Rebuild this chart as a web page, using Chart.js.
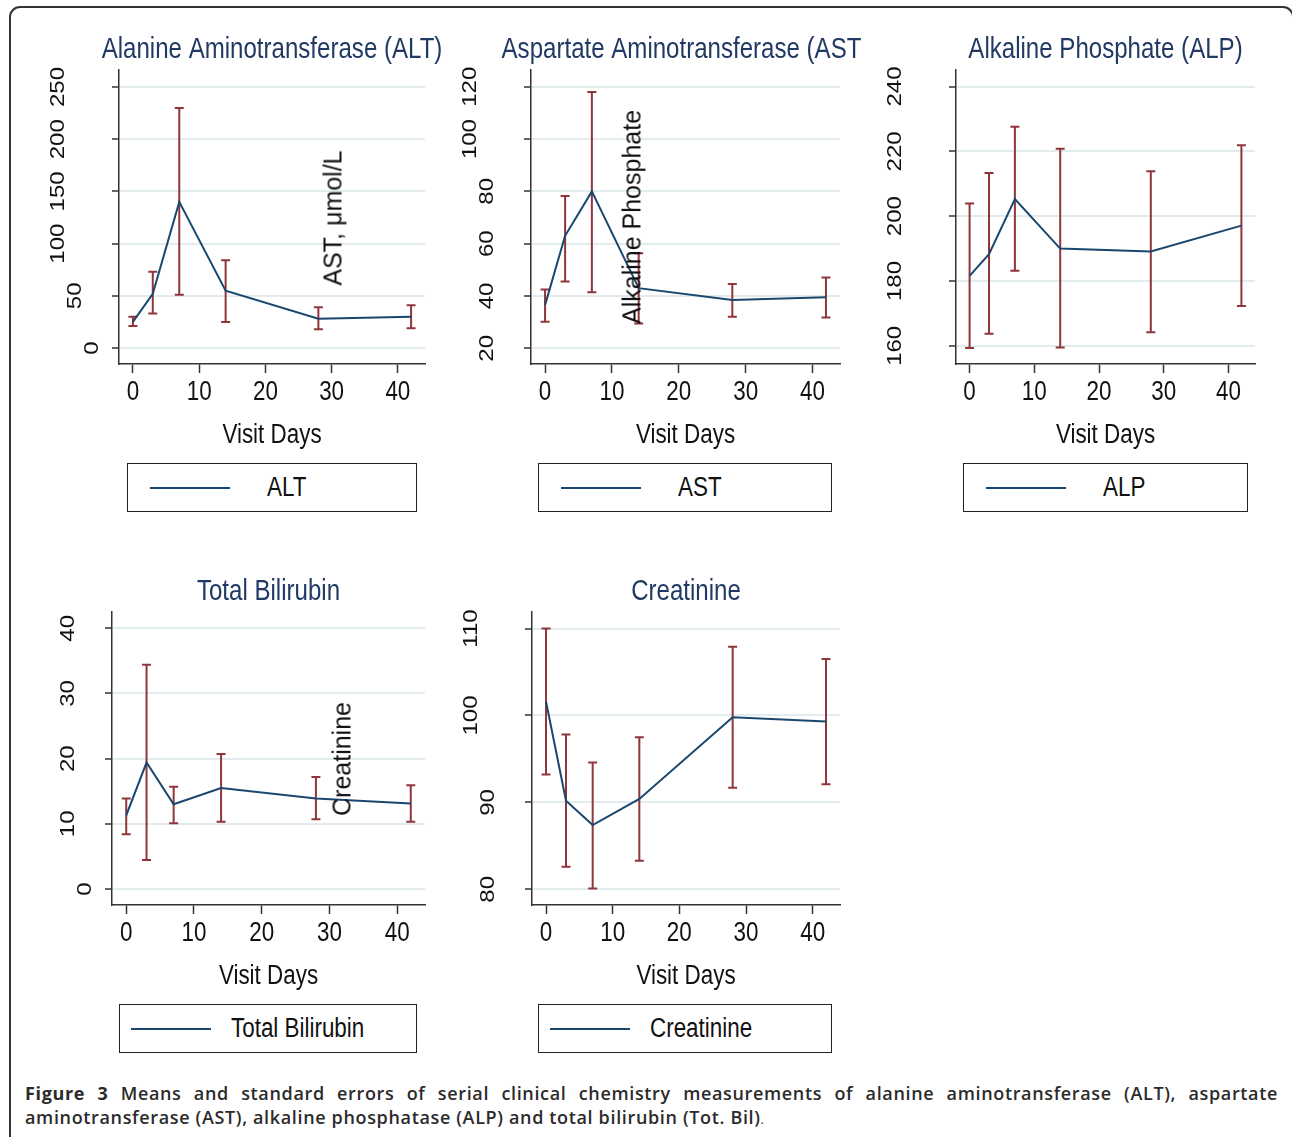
<!DOCTYPE html>
<html>
<head>
<meta charset="utf-8">
<script src="https://cdn.jsdelivr.net/npm/chart.js@4.4.0/dist/chart.umd.min.js"></script>
<style>
  html, body { margin: 0; padding: 0; background: #fff; }
  body { width: 1292px; height: 1137px; position: relative; overflow: hidden; font-family: 'Liberation Sans', Arial, sans-serif; }
  .frame { position: absolute; left: 9px; top: 6px; width: 1285px; height: 1200px; border: 2px solid #333; border-radius: 11px; box-sizing: border-box; }
  canvas { position: absolute; }
  .legend { position: absolute; border: 1px solid #222; box-sizing: border-box; display: flex; align-items: center;
            font-family: 'Liberation Sans', Arial, sans-serif; font-size: 27px; color: #111; background: #fff; }
  .legend .key { width: 80px; height: 0; border-top: 2px solid #1a476f; flex: none; }
  .legend .lbl { display: inline-block; transform: scaleX(0.83); transform-origin: left center; white-space: nowrap; }
  .ytitle { position: absolute; transform: translate(-50%, -50%) rotate(-90deg); white-space: nowrap; font-size: 25px; color: #111; }
  .caption { position: absolute; left: 25px; top: 1081px; width: 1253px; font-family: 'Open Sans', 'Noto Sans', sans-serif;
             font-weight: 600; font-size: 18px; line-height: 24px; color: #2b2b2b; letter-spacing: 0.65px; }
  .caption .l1 { text-align: justify; text-align-last: justify; }
  .caption b { font-weight: 700; }
  .caption .dot { font-weight: 400; font-size: 12px; }
</style>
</head>
<body>
<div class="frame"></div>

<canvas id="c-alt"></canvas>
<canvas id="c-ast"></canvas>
<canvas id="c-alp"></canvas>
<canvas id="c-bil"></canvas>
<canvas id="c-cre"></canvas>

<div class="ytitle" style="left:333px; top:218px;">AST, μmol/L</div>
<div class="ytitle" style="left:632px; top:217px;">Alkaline Phosphate</div>
<div class="ytitle" style="left:342px; top:759px;">Creatinine</div>

<div class="caption">
  <div class="l1"><b>Figure 3</b> Means and standard errors of serial clinical chemistry measurements of alanine aminotransferase (ALT), aspartate</div>
  <div>aminotransferase (AST), alkaline phosphatase (ALP) and total bilirubin (Tot. Bil)<span class="dot">.</span></div>
</div>

<script>
  // Dias de visita (eixo x comum)
  const visitDays = [0, 3, 7, 14, 28, 42];
  const xTicks = [0, 10, 20, 30, 40];
  const xRange = [-2.1, 44.1];

  // ALT
  const altMean = [25, 52, 140, 55, 28, 30];
  const altLow = [21, 33, 51, 25, 18, 19];
  const altHigh = [30, 73, 230, 84, 39, 41];
  const altTicks = [0, 50, 100, 150, 200, 250];
  const altRange = [-15.3, 266.3];

  // AST
  const astMean = [36.5, 63, 80, 43, 38.5, 39.5];
  const astLow = [30.2, 45.5, 41.4, 29.5, 32.1, 31.8];
  const astHigh = [42.5, 78.2, 118, 56.3, 44.6, 47.1];
  const astTicks = [20, 40, 60, 80, 100, 120];
  const astRange = [14.0, 126.4];

  // ALP
  const alpMean = [181.6, 188.3, 205.3, 190, 189.1, 197.1];
  const alpLow = [159.3, 163.7, 183.2, 159.5, 164.2, 172.3];
  const alpHigh = [203.9, 213.3, 227.6, 220.8, 213.9, 221.9];
  const alpTicks = [160, 180, 200, 220, 240];
  const alpRange = [154.4, 245.1];

  // Bilirrubina total
  const bilMean = [11.3, 19.4, 13.0, 15.5, 13.9, 13.1];
  const bilLow = [8.4, 4.45, 10.1, 10.3, 10.7, 10.3];
  const bilHigh = [13.9, 34.4, 15.7, 20.7, 17.2, 15.9];
  const bilTicks = [0, 10, 20, 30, 40];
  const bilRange = [-2.46, 42.5];

  // Creatinina
  const creMean = [101.6, 90.2, 87.4, 90.4, 99.8, 99.3];
  const creLow = [93.2, 82.6, 80.1, 83.3, 91.7, 92.1];
  const creHigh = [110, 97.8, 94.6, 97.5, 107.9, 106.5];
  const creTicks = [80, 90, 100, 110];
  const creRange = [78.2, 111.9];

  const REGULAR = "'Liberation Sans', Arial, sans-serif";
  const NAVY = '#1a476f';
  const MAROON = '#90353b';
  const ESTREITO = 0.83; // compressão horizontal do texto (estilo Stata)

  // Texto horizontal comprimido, centrado em (x, y)
  function textoEstreito(ctx, texto, x, y, tamanho, cor) {
    ctx.save();
    ctx.translate(x, y);
    ctx.scale(ESTREITO, 1);
    ctx.font = tamanho + 'px ' + REGULAR;
    ctx.fillStyle = cor;
    ctx.textAlign = 'center';
    ctx.textBaseline = 'middle';
    ctx.fillText(texto, 0, 0);
    ctx.restore();
  }

  // Plugin: barras de erro, rótulos dos eixos e título do painel
  const panelDecor = {
    id: 'panelDecor',
    beforeDatasetsDraw(chart) {
      const ctx = chart.ctx;
      const x = chart.scales.x, y = chart.scales.y;
      const ds = chart.data.datasets[0];
      ctx.save();
      ctx.strokeStyle = MAROON;
      ctx.lineWidth = 2;
      ds.data.forEach((pt, i) => {
        const px = x.getPixelForValue(pt.x);
        const y1 = y.getPixelForValue(ds.errLow[i]);
        const y2 = y.getPixelForValue(ds.errHigh[i]);
        ctx.beginPath();
        ctx.moveTo(px, y1); ctx.lineTo(px, y2);
        ctx.moveTo(px - 4.5, y1); ctx.lineTo(px + 4.5, y1);
        ctx.moveTo(px - 4.5, y2); ctx.lineTo(px + 4.5, y2);
        ctx.stroke();
      });
      ctx.restore();
    },
    afterDraw(chart, args, opts) {
      const ctx = chart.ctx;
      const area = chart.chartArea;
      const x = chart.scales.x, y = chart.scales.y;

      // rótulos do eixo y, girados (comprimidos na horizontal)
      ctx.save();
      ctx.fillStyle = '#111';
      ctx.font = '24px ' + REGULAR;
      ctx.textAlign = 'center';
      ctx.textBaseline = 'middle';
      y.ticks.forEach(t => {
        const label = String(t.value);
        const cx = area.left - 9 - 17 * label.length;
        const cy = y.getPixelForValue(t.value);
        ctx.save();
        ctx.translate(cx, cy);
        ctx.scale(ESTREITO, 1);
        ctx.rotate(-Math.PI / 2);
        ctx.fillText(label, 0, 0);
        ctx.restore();
      });
      ctx.restore();

      // rótulos do eixo x e título do eixo
      x.ticks.forEach(t => {
        textoEstreito(ctx, String(t.value), x.getPixelForValue(t.value), area.bottom + 28.5, 27, '#111');
      });
      textoEstreito(ctx, 'Visit Days', (area.left + area.right) / 2, area.bottom + 71.5, 27, '#111');

      // título do painel
      textoEstreito(ctx, opts.title, (area.left + area.right) / 2, area.top - 20, 29, '#213a64');
    }
  };

  function criarPainel(id, box, area, titulo, legenda, mean, low, high, yTicks, yRange) {
    const canvas = document.getElementById(id);
    canvas.width = box.right - box.left;
    canvas.height = box.bottom - box.top;
    canvas.style.left = box.left + 'px';
    canvas.style.top = box.top + 'px';

    new Chart(canvas, {
      type: 'line',
      data: {
        datasets: [{
          label: legenda,
          data: visitDays.map((d, i) => ({ x: d, y: mean[i] })),
          errLow: low,
          errHigh: high,
          borderColor: NAVY,
          borderWidth: 2,
          pointRadius: 0,
          tension: 0,
          fill: false
        }]
      },
      options: {
        responsive: false,
        animation: false,
        devicePixelRatio: 1,
        events: [],
        layout: {
          autoPadding: false,
          padding: { top: area.top - box.top, right: box.right - area.right, left: 0, bottom: 0 }
        },
        scales: {
          x: {
            type: 'linear',
            min: xRange[0],
            max: xRange[1],
            afterBuildTicks: s => { s.ticks = xTicks.map(v => ({ value: v })); },
            afterFit: s => { s.height = box.bottom - area.bottom; },
            border: { color: '#333', width: 1.5 },
            grid: { drawOnChartArea: false, drawTicks: true, tickLength: 9, tickColor: '#333', tickWidth: 1.5 },
            ticks: { display: false }
          },
          y: {
            type: 'linear',
            min: yRange[0],
            max: yRange[1],
            afterBuildTicks: s => { s.ticks = yTicks.map(v => ({ value: v })); },
            afterFit: s => { s.width = area.left - box.left; },
            border: { color: '#333', width: 1.5 },
            grid: { color: '#e2ecef', lineWidth: 2, drawTicks: true, tickLength: 7, tickColor: '#333', tickWidth: 1.5 },
            ticks: { display: false }
          }
        },
        plugins: {
          legend: { display: false },
          tooltip: { enabled: false },
          panelDecor: { title: titulo }
        }
      },
      plugins: [panelDecor]
    });

    // Legenda em caixa (como no Stata)
    const leg = document.createElement('div');
    leg.className = 'legend';
    const longo = legenda.length > 6;
    leg.style.left = area.legLeft + 'px';
    leg.style.top = (area.bottom + 99) + 'px';
    leg.style.width = (area.legRight - area.legLeft) + 'px';
    leg.style.height = '49px';
    leg.style.paddingLeft = (longo ? 11 : 22) + 'px';
    leg.innerHTML = `<span class="key"></span><span class="lbl" style="margin-left:${longo ? 20 : 37}px">${legenda}</span>`;
    document.body.appendChild(leg);
  }

  criarPainel('c-alt', { left: 30, top: 20, right: 460, bottom: 458 },
    { left: 119, top: 70, right: 425, bottom: 364, legLeft: 127, legRight: 417 },
    'Alanine Aminotransferase (ALT)', 'ALT', altMean, altLow, altHigh, altTicks, altRange);

  criarPainel('c-ast', { left: 455, top: 20, right: 861, bottom: 458 },
    { left: 531, top: 70, right: 840, bottom: 364, legLeft: 538, legRight: 832 },
    'Aspartate Aminotransferase (AST)', 'AST', astMean, astLow, astHigh, astTicks, astRange);

  criarPainel('c-alp', { left: 865, top: 20, right: 1285, bottom: 458 },
    { left: 956, top: 70, right: 1255, bottom: 364, legLeft: 963, legRight: 1248 },
    'Alkaline Phosphate (ALP)', 'ALP', alpMean, alpLow, alpHigh, alpTicks, alpRange);

  criarPainel('c-bil', { left: 30, top: 560, right: 440, bottom: 999 },
    { left: 112, top: 612, right: 425, bottom: 905, legLeft: 119, legRight: 417 },
    'Total Bilirubin', 'Total Bilirubin', bilMean, bilLow, bilHigh, bilTicks, bilRange);

  criarPainel('c-cre', { left: 455, top: 560, right: 861, bottom: 999 },
    { left: 532, top: 612, right: 840, bottom: 905, legLeft: 538, legRight: 832 },
    'Creatinine', 'Creatinine', creMean, creLow, creHigh, creTicks, creRange);
</script>
</body>
</html>
